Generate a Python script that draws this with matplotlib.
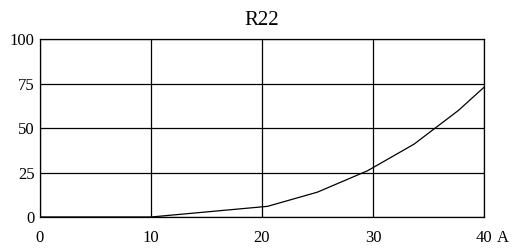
import matplotlib.pyplot as plt

# values
x_vals = [0, 10, 20.5, 25, 29.5, 33.7, 37.7, 40]
y_vals = [0, 0, 6, 14, 26, 41, 60, 73]
x_ticks = [0, 10, 20, 30, 40]
y_ticks = [0, 25, 50, 75, 100]

plt.rcParams['font.family'] = ['Liberation Serif', 'DejaVu Serif']

fig = plt.figure(figsize=(5.12, 2.5), dpi=100)
ax = fig.add_axes([40 / 512, 1 - 217 / 250, 444 / 512, 177.7 / 250])

ax.plot(x_vals, y_vals, color='black', linewidth=0.9)

ax.set_xlim(0, 40)
ax.set_ylim(0, 100)
ax.set_xticks(x_ticks)
ax.set_yticks(y_ticks)
ax.grid(True, color='black', linewidth=0.9)
ax.tick_params(length=0, labelsize=12)
ax.tick_params(axis='y', pad=4)
ax.tick_params(axis='x', pad=9)
for s in ax.spines.values():
    s.set_linewidth(0.9)

# unit next to the last x tick label
ax.annotate('A', xy=(1, 0), xycoords='axes fraction', xytext=(9.5, -9),
            textcoords='offset points', fontsize=12, ha='left', va='top')
ax.set_title('R22', fontsize=15, pad=10)

fig.savefig('out.png', dpi=100)
